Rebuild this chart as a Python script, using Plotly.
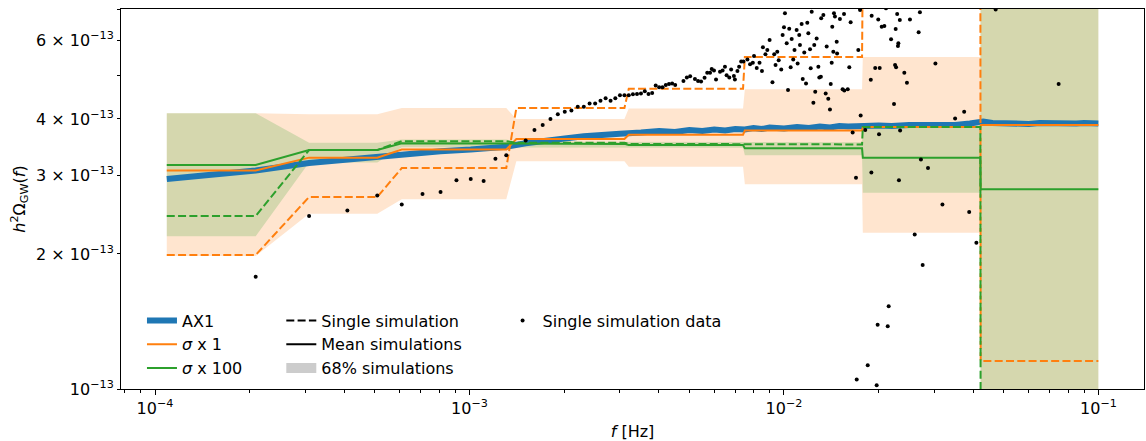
import plotly.graph_objects as go

UNIT = 1e-13  # all spectrum values below are in units of 1e-13

# frequency bins (first and last frequency sample of each bin, Hz)
bin_start = [1.09e-4, 3.09e-4, 6.09e-4, 1.409e-3, 3.209e-3, 7.509e-3, 1.7809e-2, 4.2209e-2]
bin_end = [2.09e-4, 5.09e-4, 1.309e-3, 3.109e-3, 7.409e-3, 1.7709e-2, 4.2109e-2, 9.99e-2]

# sigma x 1
s1_single = [1.99, 2.68, 3.11, 4.23, 4.67, 5.50, 9.0, 1.155]
s1_mean = [3.07, 3.28, 3.42, 3.61, 3.69, 3.77, 3.84, 3.88]
s1_lo = [1.98, 2.46, 2.65, 3.22, 3.13, 2.86, 2.23, 0.5]
s1_hi = [4.12, 4.10, 4.23, 4.00, 4.22, 4.66, 5.50, 12.0]

# sigma x 100
s100_single = [2.43, 3.41, 3.57, 3.54, 3.52, 3.51, 3.84, 0.6]
s100_mean = [3.16, 3.41, 3.53, 3.52, 3.50, 3.44, 3.28, 2.79]
s100_lo = [2.19, 3.20, 3.46, 3.45, 3.45, 3.32, 2.74, 0.5]
s100_hi = [4.12, 3.54, 3.60, 3.56, 3.56, 3.55, 3.84, 12.0]

# AX1 reference spectrum
ax1_f = [1.09e-4, 2.09e-4, 3.09e-4, 4.09e-4, 5.09e-4, 6.09e-4, 8.09e-4, 1.009e-3, 1.309e-3,
         1.509e-3, 1.709e-3, 2.009e-3, 2.309e-3, 2.609e-3, 3.009e-3, 3.509e-3, 4.009e-3,
         4.5e-3, 5.0e-3, 5.5e-3, 6.0e-3, 6.5e-3, 7.0e-3, 7.5e-3, 8.0e-3, 8.5e-3, 9.0e-3,
         1.0e-2, 1.1e-2, 1.2e-2, 1.3e-2, 1.4e-2, 1.5e-2, 1.6e-2, 1.7e-2, 1.8e-2, 2.0e-2,
         2.2e-2, 2.5e-2, 2.8e-2, 3.1e-2, 3.5e-2, 3.9e-2, 4.1e-2, 4.3e-2, 4.6e-2, 5.0e-2,
         5.5e-2, 6.0e-2, 6.5e-2, 7.0e-2, 7.5e-2, 8.0e-2, 8.5e-2, 9.0e-2, 9.99e-2]
ax1_v = [2.94, 3.07, 3.19, 3.25, 3.30, 3.34, 3.39, 3.42, 3.47,
         3.53, 3.58, 3.62, 3.66, 3.69, 3.71, 3.73, 3.76,
         3.74, 3.78, 3.76, 3.79, 3.77, 3.80, 3.79, 3.82, 3.80, 3.83,
         3.81, 3.84, 3.82, 3.85, 3.83, 3.86, 3.85, 3.87, 3.86, 3.87,
         3.86, 3.88, 3.87, 3.89, 3.88, 3.91, 3.94, 3.95, 3.92, 3.91,
         3.92, 3.90, 3.92, 3.91, 3.92, 3.90, 3.91, 3.92, 3.91]

# single simulation data points
dot_f = [2.09e-4, 3.09e-4, 4.09e-4, 5.09e-4, 6.09e-4, 7.09e-4, 8.09e-4, 9.09e-4, 1.009e-3,
         1.109e-3, 1.209e-3, 1.309e-3, 1.509e-3, 1.609e-3, 1.709e-3, 1.809e-3, 1.909e-3,
         2.009e-3, 2.109e-3, 2.209e-3, 2.309e-3, 2.409e-3, 2.509e-3, 2.609e-3, 2.709e-3,
         2.809e-3, 2.909e-3, 3.009e-3, 3.109e-3, 3.209e-3, 3.309e-3, 3.409e-3, 3.509e-3,
         3.609e-3, 3.709e-3, 3.809e-3, 3.909e-3, 4.009e-3, 4.109e-3, 4.209e-3, 4.309e-3,
         4.409e-3, 4.509e-3, 4.79e-3, 4.91e-3, 5.03e-3, 5.21e-3, 5.33e-3, 5.45e-3, 5.59e-3,
         5.70e-3, 5.82e-3, 5.89e-3, 5.99e-3, 6.08e-3, 6.26e-3, 6.38e-3, 6.49e-3, 6.57e-3,
         6.70e-3, 6.79e-3, 6.93e-3, 6.98e-3, 7.11e-3, 7.20e-3, 7.31e-3, 7.43e-3, 7.65e-3,
         7.80e-3, 7.96e-3, 8.03e-3, 8.19e-3, 8.36e-3, 8.51e-3, 8.57e-3, 8.73e-3, 8.85e-3,
         9.00e-3, 9.19e-3, 9.31e-3, 9.40e-3, 9.52e-3, 9.62e-3, 9.80e-3, 9.90e-3,
         1.000e-2, 1.007e-2, 1.02e-2, 1.03e-2, 1.039e-2, 1.05e-2, 1.058e-2, 1.07e-2, 1.08e-2,
         1.097e-2, 1.105e-2, 1.118e-2, 1.124e-2, 1.138e-2, 1.147e-2, 1.16e-2, 1.175e-2,
         1.186e-2, 1.195e-2, 1.21e-2, 1.216e-2, 1.225e-2, 1.24e-2, 1.248e-2, 1.257e-2,
         1.27e-2, 1.286e-2, 1.295e-2, 1.31e-2, 1.313e-2, 1.334e-2, 1.357e-2, 1.367e-2,
         1.383e-2, 1.40e-2, 1.408e-2, 1.418e-2, 1.424e-2, 1.435e-2, 1.442e-2, 1.452e-2,
         1.471e-2, 1.475e-2, 1.506e-2, 1.536e-2, 1.552e-2, 1.555e-2, 1.595e-2, 1.613e-2,
         1.629e-2, 1.653e-2, 1.694e-2, 1.703e-2, 1.723e-2, 1.745e-2, 1.753e-2, 1.813e-2,
         1.846e-2, 1.888e-2, 1.896e-2, 1.90e-2, 1.95e-2, 1.971e-2, 1.985e-2, 1.994e-2,
         2.005e-2, 2.015e-2, 2.045e-2, 2.085e-2, 2.11e-2, 2.137e-2, 2.152e-2, 2.19e-2,
         2.238e-2, 2.255e-2, 2.265e-2, 2.272e-2, 2.29e-2, 2.303e-2, 2.31e-2, 2.32e-2,
         2.335e-2, 2.34e-2, 2.413e-2, 2.46e-2, 2.515e-2, 2.604e-2, 2.68e-2, 2.705e-2,
         2.725e-2, 2.76e-2, 2.87e-2, 3.03e-2, 3.19e-2, 3.50e-2, 3.74e-2, 3.88e-2, 4.09e-2,
         4.71e-2, 7.47e-2]
dot_v = [1.78, 2.43, 2.50, 2.70, 2.58, 2.72, 2.75, 2.92, 2.94,
         2.91, 3.26, 3.32, 3.58, 3.78, 3.88, 4.00, 4.10,
         4.15, 4.18, 4.26, 4.26, 4.33, 4.33, 4.39, 4.45,
         4.39, 4.45, 4.52, 4.52, 4.52, 4.54, 4.55, 4.56,
         4.61, 4.55, 4.57, 4.75, 4.71, 4.71, 4.76, 4.79,
         4.80, 4.76, 4.86, 4.95, 4.98, 4.91, 4.86, 4.85, 4.94,
         5.07, 5.07, 5.17, 5.13, 4.90, 5.10, 5.13, 5.23, 5.01,
         4.95, 5.16, 4.99, 4.90, 5.12, 5.23, 5.37, 5.37, 5.43,
         5.30, 5.34, 5.53, 5.20, 5.34, 5.12, 5.78, 5.58, 5.70,
         6.00, 4.83, 5.58, 5.28, 5.65, 5.41, 5.16, 6.16,
         6.41, 6.88, 5.90, 4.64, 6.36, 5.22, 6.03, 5.43, 5.70,
         6.32, 5.32, 6.16, 5.85, 6.51, 4.91, 5.63, 4.80,
         6.56, 6.21, 5.72, 5.19, 6.94, 4.35, 5.85, 4.60,
         6.05, 5.23, 4.95, 4.97, 6.71, 6.82, 4.56, 5.80,
         4.44, 4.20, 4.79, 5.34, 6.42, 5.65, 6.88, 6.77,
         5.95, 5.60, 6.68, 4.66, 6.86, 4.63, 4.66, 5.22,
         6.57, 3.73, 2.96, 1.05, 5.70, 7.00, 4.07, 3.78,
         1.13, 4.89, 3.04, 6.80, 5.20, 1.02, 1.39, 6.67,
         3.70, 5.20, 6.42, 6.45, 7.06, 1.38, 1.53, 6.02,
         4.32, 5.28, 6.35, 5.22, 6.86, 5.82, 5.90, 2.92,
         6.65, 3.77, 5.07, 4.82, 6.67, 2.21, 6.24, 6.92,
         3.25, 1.89, 3.11, 5.32, 2.58, 4.01, 4.15, 2.48, 2.12,
         7.02, 4.79]

x_ticks = [1e-4, 1e-3, 1e-2, 1e-1]
x_ticktext = ["10<sup>−4</sup>", "10<sup>−3</sup>", "10<sup>−2</sup>", "10<sup>−1</sup>"]
y_ticks = [1e-13, 2e-13, 3e-13, 4e-13, 6e-13]
y_ticktext = ["10<sup>−13</sup>", "2 × 10<sup>−13</sup>", "3 × 10<sup>−13</sup>",
              "4 × 10<sup>−13</sup>", "6 × 10<sup>−13</sup>"]
y_minor = [5e-13, 7e-13]
x_minor = [m * d for d in (1e-5, 1e-4, 1e-3, 1e-2) for m in range(2, 10)]

BLUE = "#1f77b4"
ORANGE = "#ff7f0e"
GREEN = "#2ca02c"
DASH = "8px,3.3px"


def steps(vals):
    xs, ys = [], []
    for a, b, v in zip(bin_start, bin_end, vals):
        xs += [a, b]
        ys += [v * UNIT, v * UNIT]
    return xs, ys


fig = go.Figure()


def band(lo, hi, color):
    xl, yl = steps(lo)
    xh, yh = steps(hi)
    fig.add_trace(go.Scatter(x=xl, y=yl, mode="lines", line=dict(width=0),
                             showlegend=False, hoverinfo="skip"))
    fig.add_trace(go.Scatter(x=xh, y=yh, mode="lines", line=dict(width=0),
                             fill="tonexty", fillcolor=color,
                             showlegend=False, hoverinfo="skip"))


band(s1_lo, s1_hi, "rgba(255,127,14,0.2)")
band(s100_lo, s100_hi, "rgba(44,160,44,0.2)")

fig.add_trace(go.Scatter(x=ax1_f, y=[v * UNIT for v in ax1_v], mode="lines",
                         line=dict(color=BLUE, width=6), showlegend=False))

for single, mean, col in ((s1_single, s1_mean, ORANGE), (s100_single, s100_mean, GREEN)):
    xs, ys = steps(single)
    fig.add_trace(go.Scatter(x=xs, y=ys, mode="lines",
                             line=dict(color=col, width=2, dash=DASH), showlegend=False))
    xs, ys = steps(mean)
    fig.add_trace(go.Scatter(x=xs, y=ys, mode="lines",
                             line=dict(color=col, width=2), showlegend=False))

fig.add_trace(go.Scatter(x=dot_f, y=[v * UNIT for v in dot_v], mode="markers",
                         marker=dict(color="black", size=4), showlegend=False))

# legend entries
leg = [
    ("AX1", "legend", dict(mode="lines", line=dict(color=BLUE, width=6))),
    ("<i>σ</i> x 1", "legend", dict(mode="lines", line=dict(color=ORANGE, width=2))),
    ("<i>σ</i> x 100", "legend", dict(mode="lines", line=dict(color=GREEN, width=2))),
    ("Single simulation", "legend2", dict(mode="lines", line=dict(color="black", width=2, dash=DASH))),
    ("Mean simulations", "legend2", dict(mode="lines", line=dict(color="black", width=2))),
    ("68% simulations", "legend2", dict(mode="lines", line=dict(color="#cccccc", width=13))),
    ("Single simulation data", "legend3", dict(mode="markers", marker=dict(color="black", size=4))),
]
for i, (name, lg, kw) in enumerate(leg):
    fig.add_trace(go.Scatter(x=[None], y=[None], name=name, legend=lg,
                             legendgroup="g%d" % i, showlegend=True, **kw))

FONT = "DejaVu Sans"
FS = 16
leg_common = dict(bgcolor="rgba(0,0,0,0)", borderwidth=0, font=dict(family=FONT, size=FS, color="black"),
                  xanchor="left", yanchor="top", traceorder="grouped", tracegroupgap=0, itemwidth=30)

axis_common = dict(type="log", showline=True, linecolor="black", linewidth=1, mirror=True,
                   showgrid=False, zeroline=False, ticks="outside", ticklen=5, tickwidth=1,
                   automargin=False,
                   tickcolor="black", tickfont=dict(family=FONT, size=FS, color="black"))

fig.update_layout(
    width=1146, height=441,
    margin=dict(l=121, r=2, t=9, b=52, autoexpand=False),
    paper_bgcolor="white", plot_bgcolor="white",
    font=dict(family=FONT, size=FS, color="black"),
    legend=dict(x=0.0205, y=0.225, **leg_common),
    legend2=dict(x=0.1567, y=0.225, **leg_common),
    legend3=dict(x=0.373, y=0.225, **leg_common),
    xaxis=dict(range=[-4.1081, -0.8553], tickvals=x_ticks, ticktext=x_ticktext,
               minor=dict(tickvals=x_minor, ticks="outside", ticklen=3, tickwidth=0.8,
                          tickcolor="black", showgrid=False),
               title=dict(text="<i>f</i> [Hz]", font=dict(family=FONT, size=FS), standoff=10),
               **axis_common),
    yaxis=dict(range=[-13, -12.1527], tickvals=y_ticks, ticktext=y_ticktext,
               minor=dict(tickvals=y_minor, ticks="outside", ticklen=3, tickwidth=0.8,
                          tickcolor="black", showgrid=False),
               title=dict(text="<i>h</i><sup>2</sup>Ω<sub>GW</sub>(<i>f</i>)",
                          font=dict(family=FONT, size=FS), standoff=6),
               **axis_common),
)
fig.update_yaxes(ticklen=3)

fig.write_html("out.html", config={"displayModeBar": False},
               post_script="document.body.style.margin='0px';")
